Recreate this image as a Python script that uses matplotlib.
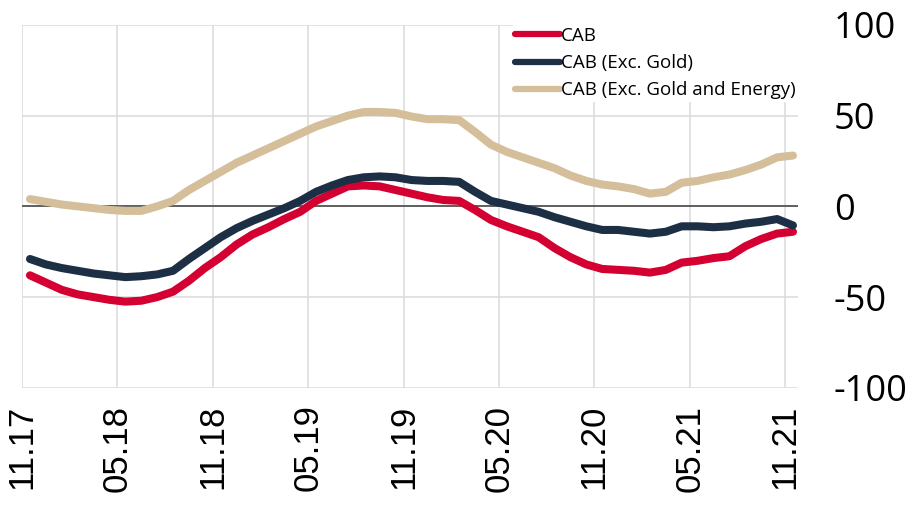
import matplotlib
matplotlib.use("Agg")
import matplotlib.pyplot as plt
import numpy as np

# monthly observations, 11.17 .. 11.21
months = np.arange(49)
tick_labels = ["11.17", "05.18", "11.18", "05.19", "11.19", "05.20", "11.20", "05.21", "11.21"]

cab = [-38, -42, -46, -48.5, -50, -51.5, -52.5, -52, -50, -47,
       -41, -34, -28, -21, -15.5, -11.5, -7, -3, 3, 7,
       11, 11.5, 11, 9, 7, 5, 3.5, 3, -2, -7.5,
       -11, -14, -17, -23, -28, -32, -34.5, -35, -35.5, -36.5,
       -35, -31, -30, -28.5, -27.5, -22, -18, -15, -14]
cab_ex_gold = [-29, -32, -34, -35.5, -37, -38, -39, -38.5, -37.5, -35.5,
               -29, -23, -17, -12, -8, -4.5, -1, 3, 8, 11.5,
               14.5, 16, 16.5, 16, 14.5, 14, 14, 13.5, 8, 3,
               1, -1, -3, -6, -8.5, -11, -13, -13, -14, -15,
               -14, -11, -11, -11.5, -11, -9.5, -8.5, -7, -10.5]
cab_ex_gold_energy = [4, 2.5, 1, 0, -1, -2, -2.5, -2.5, 0, 3,
                      9, 14, 19, 24, 28, 32, 36, 40, 44, 47,
                      50, 52, 52, 51.5, 49.5, 48, 48, 47.5, 41, 34,
                      30, 27, 24, 21, 17, 14, 12, 11, 9.5, 7,
                      8, 13, 14, 16, 17.5, 20, 23, 27, 28]

fig = plt.figure(figsize=(9.18, 5.07), dpi=100)
ax = fig.add_axes([0.024, 0.235, 0.845, 0.716])

x = months + 0.5
ax.plot(x, cab, color="#D50032", lw=5.8, label="CAB", solid_capstyle="round")
ax.plot(x, cab_ex_gold, color="#1C2F45", lw=5.8, label="CAB (Exc. Gold)", solid_capstyle="round")
ax.plot(x, cab_ex_gold_energy, color="#D5BF9A", lw=5.8, label="CAB (Exc. Gold and Energy)",
        solid_capstyle="round")
ax.axhline(0, color="#555555", lw=1.3, zorder=1.5)

ax.set_xlim(0, 48.8)
ax.set_ylim(-100, 100)
ax.set_xticks(months[::6])
ax.set_xticklabels(tick_labels, rotation=90, fontsize=25, family="Liberation Sans")
ax.set_yticks([-100, -50, 0, 50, 100])
ax.set_yticklabels(["-100", "-50", "0", "50", "100"], fontsize=26, family="Open Sans")
ax.yaxis.tick_right()
ax.tick_params(axis="y", length=0, pad=26)
ax.tick_params(axis="x", length=0, pad=12)
ax.grid(color="#DDDDDD", lw=1.2)
ax.set_axisbelow(True)
for s in ax.spines.values():
    s.set_visible(False)

leg = ax.legend(loc="upper right", bbox_to_anchor=(1.0, 1.0), borderaxespad=0,
                frameon=True, fancybox=False, framealpha=1, edgecolor="white",
                prop={"family": "Open Sans", "size": 13.5}, handlelength=2.4,
                handletextpad=0.05, labelspacing=0.5, borderpad=0.1)
for line in leg.get_lines():
    line.set_linewidth(4.5)

fig.savefig("out.png", dpi=100)
